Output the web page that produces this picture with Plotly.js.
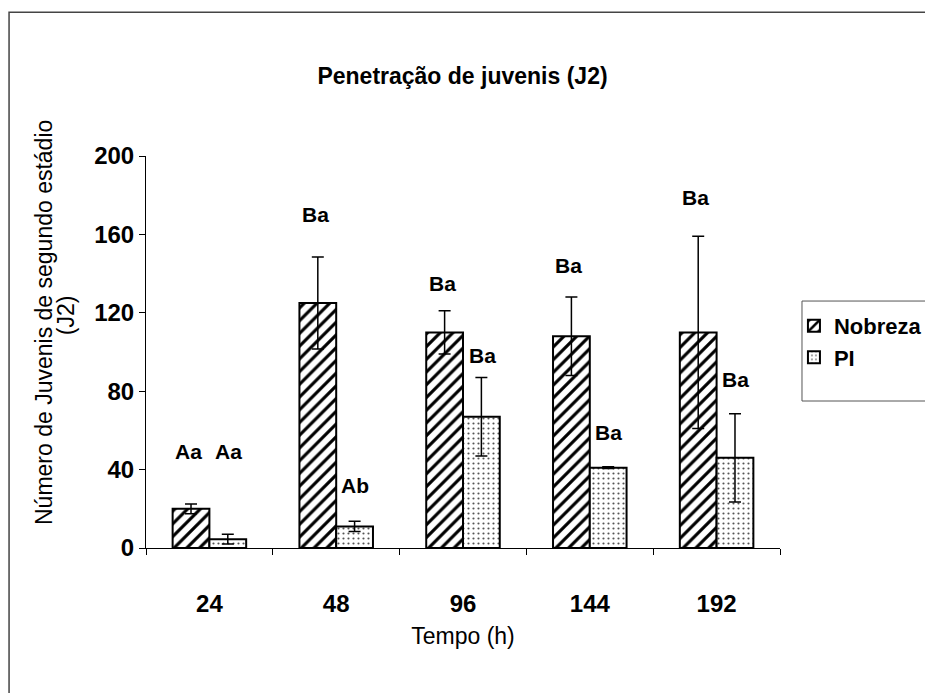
<!DOCTYPE html>
<html>
<head>
<meta charset="utf-8">
<script src="https://cdn.plot.ly/plotly-3.0.1.min.js"></script>
<style>html,body{margin:0;padding:0;background:#fff;}#chart{width:925px;height:693px;}</style>
</head>
<body>
<div id="chart"></div>
<script>
const categories = ['24', '48', '96', '144', '192'];
const nobreza = [20, 125, 110, 108, 110];
const nobrezaErr = [2.5, 23.5, 11, 20, 49];
const pi = [4.5, 11, 67, 41, 46];
const piErr = [2.5, 2.6, 20, 0.5, 22.5];
const nobrezaLetters = ['Aa', 'Ba', 'Ba', 'Ba', 'Ba'];
const piLetters = ['Aa', 'Ab', 'Ba', 'Ba', 'Ba'];
const nobrezaLetterY = [49, 170, 135, 144, 179];
const piLetterY = [49, 32, 98, 59, 86];
const yTicks = [0, 40, 80, 120, 160, 200];

const F = 'Liberation Sans, Arial, sans-serif';

const traces = [
  {
    type: 'bar', name: 'Nobreza', x: categories, y: nobreza, legendgroup: 'a',
    marker: {color: '#ffffff', line: {color: '#000', width: 2},
      pattern: {shape: '/', fgcolor: '#000', bgcolor: '#fff', size: 9, solidity: 0.35}},
    error_y: {type: 'data', array: nobrezaErr, visible: true, color: '#000', thickness: 1.5, width: 6}
  },
  {
    type: 'bar', name: 'PI', x: categories, y: pi, legendgroup: 'b',
    marker: {color: '#ffffff', line: {color: '#000', width: 2},
      pattern: {shape: '.', fgcolor: '#555', bgcolor: '#fff', size: 5, solidity: 0.15}},
    error_y: {type: 'data', array: piErr, visible: true, color: '#000', thickness: 1.5, width: 6}
  }
];

const annotations = [];
categories.forEach((c, i) => {
  annotations.push({x: i, y: nobrezaLetterY[i], xref: 'x', yref: 'y', text: nobrezaLetters[i],
    showarrow: false, xshift: -21, font: {family: F, size: 21, color: '#000', weight: 'bold'}});
  annotations.push({x: i, y: piLetterY[i], xref: 'x', yref: 'y', text: piLetters[i],
    showarrow: false, xshift: 19, font: {family: F, size: 21, color: '#000', weight: 'bold'}});
});
annotations.push({
  text: 'Número de Juvenis de segundo estádio', textangle: -90,
  xref: 'paper', yref: 'paper', x: -0.1609, y: 0.5765, xanchor: 'center', yanchor: 'middle',
  showarrow: false, font: {family: F, size: 23, color: '#000'}
});
annotations.push({
  text: '(J2)', textangle: -90,
  xref: 'paper', yref: 'paper', x: -0.1262, y: 0.594, xanchor: 'center', yanchor: 'middle',
  showarrow: false, font: {family: F, size: 23, color: '#000'}
});

const layout = {
  width: 925, height: 693,
  paper_bgcolor: '#fff', plot_bgcolor: '#fff',
  margin: {l: 146, r: 145, t: 156, b: 145, autoexpand: false},
  barmode: 'group', bargap: 0.42, bargroupgap: 0,
  title: {text: 'Penetração de juvenis (J2)', x: 0.5, xanchor: 'center', y: 0.89, yanchor: 'middle',
    font: {family: F, size: 23, color: '#000', weight: 'bold'}},
  xaxis: {
    type: 'category', showline: true, linecolor: '#000', linewidth: 1,
    ticks: 'outside', tickson: 'boundaries', ticklen: 6, tickcolor: '#000',
    showgrid: false, zeroline: false, tickangle: 0, ticklabelstandoff: 34,
    tickfont: {family: F, size: 24, color: '#000', weight: 'bold'},
    title: {text: 'Tempo (h)', standoff: 12, font: {family: F, size: 23, color: '#000'}}
  },
  yaxis: {
    range: [0, 200], tickvals: yTicks, ticktext: yTicks.map(String),
    showline: true, linecolor: '#000', linewidth: 1,
    ticks: 'outside', ticklen: 6, tickcolor: '#000',
    showgrid: false, zeroline: false,
    tickfont: {family: F, size: 24, color: '#000', weight: 'bold'}
  },
  legend: {
    x: 1.022, y: 0.62, xanchor: 'left', yanchor: 'top', xref: 'paper', yref: 'paper',
    borderwidth: 0, bgcolor: 'rgba(0,0,0,0)',
    font: {family: F, size: 22, color: '#000', weight: 'bold'},
    tracegroupgap: 33, itemwidth: 30, traceorder: 'normal'
  },
  annotations: annotations,
  shapes: [
    {type: 'rect', xref: 'paper', yref: 'paper', x0: -0.216, x1: 1.6, y0: -1, y1: 1.367,
      line: {color: '#444', width: 1.5}, fillcolor: 'rgba(0,0,0,0)', layer: 'below'},
    {type: 'rect', xref: 'paper', yref: 'paper', x0: 1.0347, x1: 1.4, y0: 0.375, y1: 0.630,
      line: {color: '#555', width: 1}, fillcolor: 'rgba(0,0,0,0)', layer: 'below'}
  ],
  showlegend: true
};

Plotly.newPlot('chart', traces, layout, {displayModeBar: false, staticPlot: true});
</script>
</body>
</html>
